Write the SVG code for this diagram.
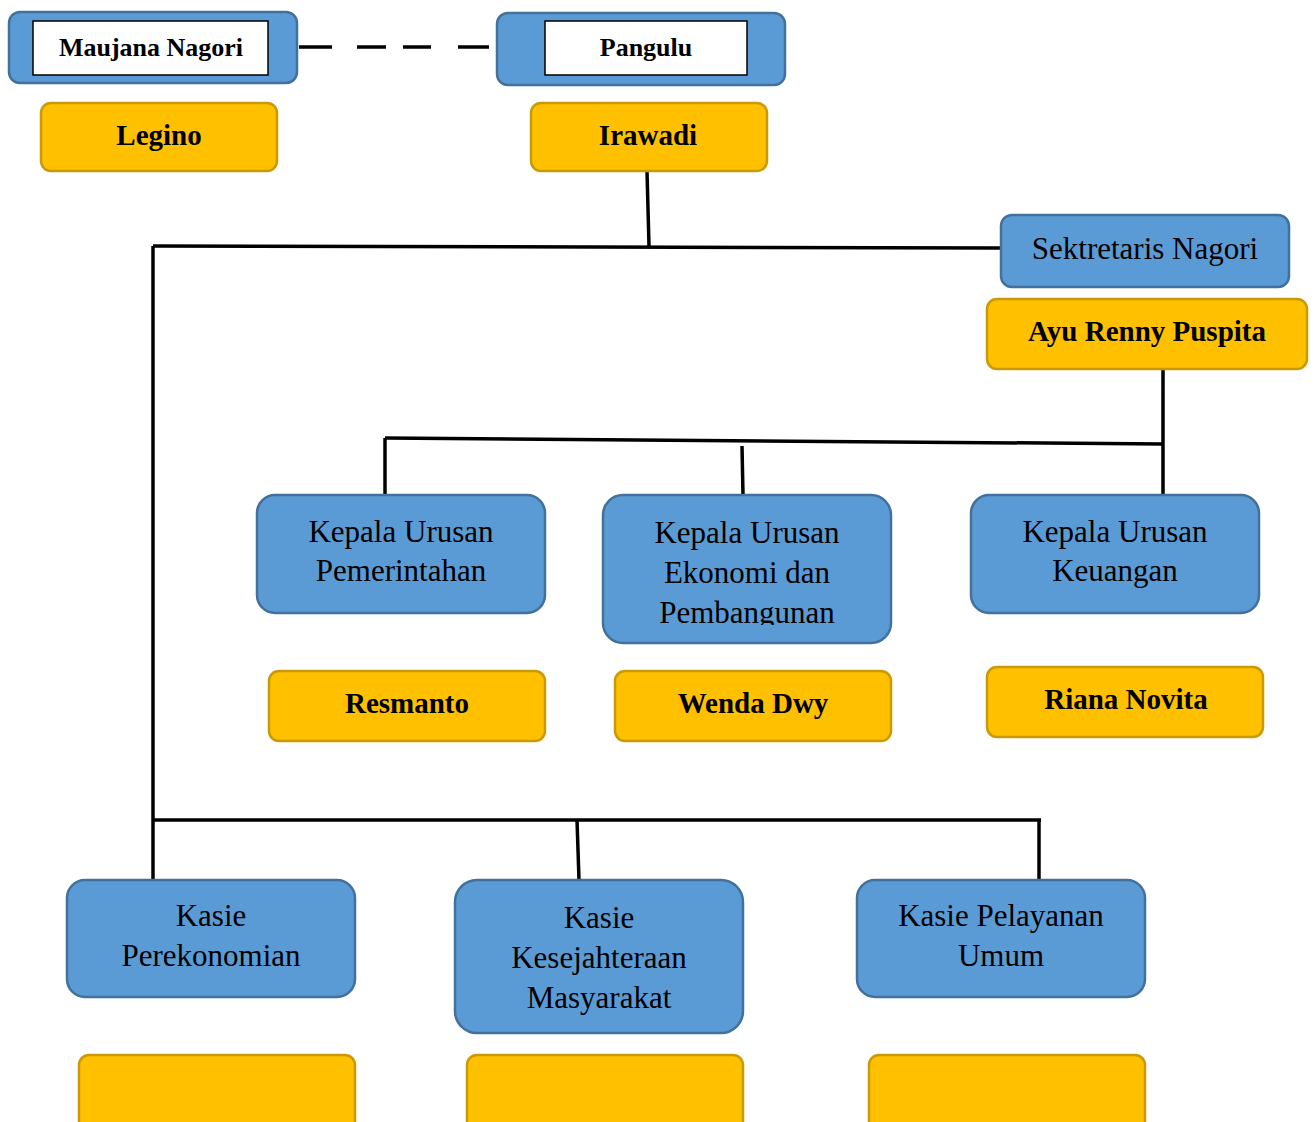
<svg xmlns="http://www.w3.org/2000/svg" width="1316" height="1122" viewBox="0 0 1316 1122">
<style>
.blue{fill:#5B9BD5;stroke:#41719C;stroke-width:2.5}
.gold{fill:#FFC000;stroke:#C99A06;stroke-width:2.5}
.white{fill:#FFFFFF;stroke:#000000;stroke-width:1.5}
.t{font-family:"Liberation Serif","Times New Roman",serif;font-size:31px;fill:#000;text-anchor:middle}
.b{font-family:"Liberation Serif","Times New Roman",serif;font-size:29px;font-weight:bold;fill:#000;text-anchor:middle}
.h{font-family:"Liberation Serif","Times New Roman",serif;font-size:26px;font-weight:bold;fill:#000;text-anchor:middle}
.ln{stroke:#000;stroke-width:3.5;fill:none}
</style>
<defs>
<clipPath id="clipEko"><rect x="603" y="495" width="290" height="130"/></clipPath>
</defs>
<rect width="1316" height="1122" fill="#FFFFFF"/>
<g id="connectors">
<path class="ln" stroke-width="4" d="M299 47H332M357 47H386M403 47H431M458 47H489"/>
<line class="ln" x1="647" y1="171" x2="649" y2="246"/>
<line class="ln" x1="153" y1="246" x2="1001" y2="248"/>
<line class="ln" x1="153" y1="246" x2="153" y2="880"/>
<line class="ln" x1="1163" y1="369" x2="1163" y2="495"/>
<line class="ln" x1="385" y1="438" x2="1163" y2="444"/>
<line class="ln" x1="385" y1="438" x2="385" y2="495"/>
<line class="ln" x1="742" y1="446" x2="743" y2="495"/>
<line class="ln" x1="153" y1="820" x2="1041" y2="820"/>
<line class="ln" x1="577" y1="820" x2="579" y2="880"/>
<line class="ln" x1="1039" y1="820" x2="1039" y2="880"/>
</g>
<g id="maujana">
<rect class="blue" x="9" y="12" width="288" height="71" rx="11"/>
<rect class="white" x="33" y="21" width="235" height="54"/>
<text class="h" x="151" y="56">Maujana Nagori</text>
</g>
<g id="pangulu">
<rect class="blue" x="497" y="13" width="288" height="72" rx="11"/>
<rect class="white" x="545" y="21" width="202" height="54"/>
<text class="h" x="646" y="56">Pangulu</text>
</g>
<g id="legino">
<rect class="gold" x="41" y="103" width="236" height="68" rx="10"/>
<text class="b" x="159" y="145">Legino</text>
</g>
<g id="irawadi">
<rect class="gold" x="531" y="103" width="236" height="68" rx="10"/>
<text class="b" x="648" y="145">Irawadi</text>
</g>
<g id="sekretaris">
<rect class="blue" x="1001" y="215" width="288" height="72" rx="11"/>
<text class="t" x="1145" y="259">Sektretaris Nagori</text>
</g>
<g id="ayu">
<rect class="gold" x="987" y="299" width="320" height="70" rx="10"/>
<text class="b" x="1147" y="341">Ayu Renny Puspita</text>
</g>
<g id="kaur-pemerintahan">
<rect class="blue" x="257" y="495" width="288" height="118" rx="18"/>
<text class="t" x="401" y="542">Kepala Urusan</text>
<text class="t" x="401" y="581">Pemerintahan</text>
</g>
<g id="kaur-ekonomi">
<rect class="blue" x="603" y="495" width="288" height="148" rx="20"/>
<g clip-path="url(#clipEko)">
<text class="t" x="747" y="543">Kepala Urusan</text>
<text class="t" x="747" y="583">Ekonomi dan</text>
<text class="t" x="747" y="623">Pembangunan</text>
</g>
</g>
<g id="kaur-keuangan">
<rect class="blue" x="971" y="495" width="288" height="118" rx="18"/>
<text class="t" x="1115" y="542">Kepala Urusan</text>
<text class="t" x="1115" y="581">Keuangan</text>
</g>
<g id="resmanto">
<rect class="gold" x="269" y="671" width="276" height="70" rx="10"/>
<text class="b" x="407" y="713">Resmanto</text>
</g>
<g id="wenda">
<rect class="gold" x="615" y="671" width="276" height="70" rx="10"/>
<text class="b" x="753" y="713">Wenda Dwy</text>
</g>
<g id="riana">
<rect class="gold" x="987" y="667" width="276" height="70" rx="10"/>
<text class="b" x="1126" y="709">Riana Novita</text>
</g>
<g id="kasie-perekonomian">
<rect class="blue" x="67" y="880" width="288" height="117" rx="18"/>
<text class="t" x="211" y="926">Kasie</text>
<text class="t" x="211" y="966">Perekonomian</text>
</g>
<g id="kasie-kesejahteraan">
<rect class="blue" x="455" y="880" width="288" height="153" rx="22"/>
<text class="t" x="599" y="928">Kasie</text>
<text class="t" x="599" y="968">Kesejahteraan</text>
<text class="t" x="599" y="1008">Masyarakat</text>
</g>
<g id="kasie-pelayanan">
<rect class="blue" x="857" y="880" width="288" height="117" rx="18"/>
<text class="t" x="1001" y="926">Kasie Pelayanan</text>
<text class="t" x="1001" y="966">Umum</text>
</g>
<g id="nama-perekonomian">
<rect class="gold" x="79" y="1055" width="276" height="90" rx="10"/>
</g>
<g id="nama-kesejahteraan">
<rect class="gold" x="467" y="1055" width="276" height="90" rx="10"/>
</g>
<g id="nama-pelayanan">
<rect class="gold" x="869" y="1055" width="276" height="90" rx="10"/>
</g>
</svg>
